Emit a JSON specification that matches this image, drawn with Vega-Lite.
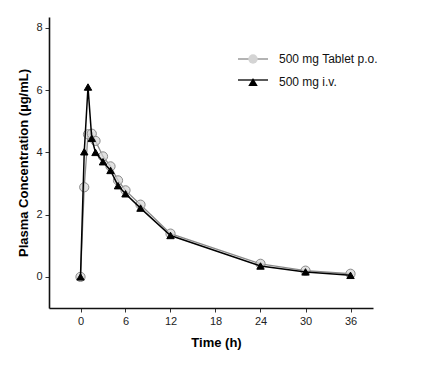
{
  "$schema": "https://vega.github.io/schema/vega-lite/v6.json",
  "width": 324,
  "height": 291,
  "autosize": {"type": "none"},
  "padding": {"left": 49, "top": 17, "right": 51, "bottom": 58},
  "background": "white",
  "config": {
    "view": {"stroke": null},
    "font": "Liberation Sans",
    "axis": {
      "grid": false,
      "domainColor": "#111",
      "domainWidth": 1.6,
      "tickColor": "#333",
      "tickSize": 4,
      "tickWidth": 1,
      "labelFont": "Liberation Sans",
      "labelFontSize": 11,
      "labelColor": "#222",
      "labelPadding": 3,
      "titleFont": "Liberation Sans",
      "titleFontSize": 13,
      "titleFontWeight": "bold",
      "titleColor": "#000"
    }
  },
  "data": {
    "values": [
      {"series": "500 mg Tablet p.o.", "t": 0, "c": 0},
      {"series": "500 mg Tablet p.o.", "t": 0.5, "c": 2.88},
      {"series": "500 mg Tablet p.o.", "t": 1, "c": 4.58},
      {"series": "500 mg Tablet p.o.", "t": 1.5, "c": 4.6},
      {"series": "500 mg Tablet p.o.", "t": 2, "c": 4.37},
      {"series": "500 mg Tablet p.o.", "t": 3, "c": 3.87},
      {"series": "500 mg Tablet p.o.", "t": 4, "c": 3.55},
      {"series": "500 mg Tablet p.o.", "t": 5, "c": 3.1},
      {"series": "500 mg Tablet p.o.", "t": 6, "c": 2.78},
      {"series": "500 mg Tablet p.o.", "t": 8, "c": 2.32},
      {"series": "500 mg Tablet p.o.", "t": 12, "c": 1.39},
      {"series": "500 mg Tablet p.o.", "t": 24, "c": 0.42},
      {"series": "500 mg Tablet p.o.", "t": 30, "c": 0.2},
      {"series": "500 mg Tablet p.o.", "t": 36, "c": 0.1},
      {"series": "500 mg i.v.", "t": 0, "c": 0},
      {"series": "500 mg i.v.", "t": 0.5, "c": 4.02},
      {"series": "500 mg i.v.", "t": 1, "c": 6.1},
      {"series": "500 mg i.v.", "t": 1.5, "c": 4.45},
      {"series": "500 mg i.v.", "t": 2, "c": 4.0},
      {"series": "500 mg i.v.", "t": 3, "c": 3.7},
      {"series": "500 mg i.v.", "t": 4, "c": 3.42},
      {"series": "500 mg i.v.", "t": 5, "c": 2.93},
      {"series": "500 mg i.v.", "t": 6, "c": 2.67},
      {"series": "500 mg i.v.", "t": 8, "c": 2.21},
      {"series": "500 mg i.v.", "t": 12, "c": 1.33},
      {"series": "500 mg i.v.", "t": 24, "c": 0.35},
      {"series": "500 mg i.v.", "t": 30, "c": 0.16},
      {"series": "500 mg i.v.", "t": 36, "c": 0.05}
    ]
  },
  "encoding": {
    "x": {
      "field": "t",
      "type": "quantitative",
      "scale": {"domain": [-4.2, 39], "nice": false, "zero": false},
      "axis": {"values": [0, 6, 12, 18, 24, 30, 36], "title": "Time (h)", "titlePadding": 10, "titleX": 167}
    },
    "y": {
      "field": "c",
      "type": "quantitative",
      "scale": {"domain": [-1, 8.35], "nice": false, "zero": false},
      "axis": {"values": [0, 2, 4, 6, 8], "title": "Plasma Concentration (µg/mL)", "titlePadding": 5}
    },
    "stroke": {
      "field": "series",
      "type": "nominal",
      "scale": {"domain": ["500 mg Tablet p.o.", "500 mg i.v."], "range": ["#8a8a8a", "#000000"]},
      "legend": {
        "title": null,
        "orient": "none",
        "legendX": 198,
        "legendY": 36,
        "labelFontSize": 12,
        "labelFont": "Liberation Sans",
        "labelExpr": "' '",
        "labelOffset": 20,
        "symbolType": "M-3,0H3",
        "symbolSize": 100,
        "symbolStrokeWidth": 1.3,
        "rowPadding": 9
      }
    }
  },
  "layer": [
    {
      "transform": [{"filter": "datum.series === '500 mg Tablet p.o.'"}],
      "mark": {"type": "line", "strokeWidth": 1.3},
      "encoding": {"order": {"field": "t", "type": "quantitative"}}
    },
    {
      "transform": [{"filter": "datum.series === '500 mg Tablet p.o.'"}],
      "mark": {"type": "point", "filled": false, "strokeWidth": 1, "opacity": 1, "fillOpacity": 0.7, "size": 85},
      "encoding": {
        "shape": {
          "field": "series",
          "type": "nominal",
          "scale": {"range": ["circle", "triangle-up"]},
          "legend": {
            "title": null,
            "orient": "none",
            "legendX": 198,
            "legendY": 36,
            "labelFontSize": 12,
            "labelFont": "Liberation Sans",
            "labelColor": "#111",
            "labelOffset": 20,
            "symbolSize": 90,
            "symbolStrokeColor": "#777777",
            "symbolStrokeWidth": 1,
            "rowPadding": 9
          }
        },
        "fill": {
          "field": "series",
          "type": "nominal",
          "scale": {"range": ["#d4d4d4", "#000000"]}
        }
      }
    },
    {
      "transform": [{"filter": "datum.series === '500 mg i.v.'"}],
      "mark": {"type": "line", "strokeWidth": 1.5},
      "encoding": {"order": {"field": "t", "type": "quantitative"}}
    },
    {
      "transform": [{"filter": "datum.series === '500 mg i.v.'"}],
      "mark": {"type": "point", "filled": false, "strokeWidth": 1, "opacity": 1, "fillOpacity": 1, "size": 55},
      "encoding": {
        "shape": {"field": "series", "type": "nominal"},
        "fill": {"field": "series", "type": "nominal"}
      }
    }
  ]
}
